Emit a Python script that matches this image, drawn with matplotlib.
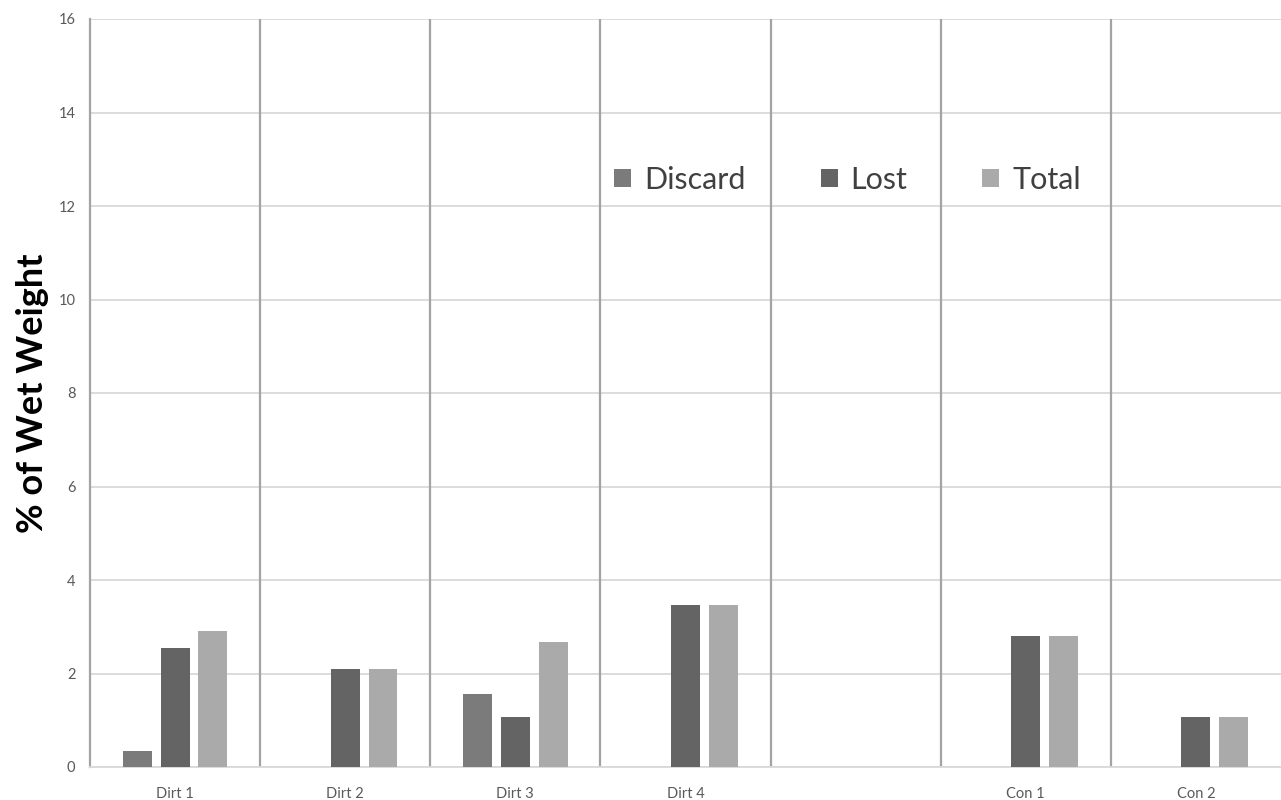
import numpy as np
import matplotlib
matplotlib.use("Agg")
import matplotlib.pyplot as plt
from matplotlib.patches import Patch

plt.rcParams['font.family'] = ['Lato', 'DejaVu Sans']

categories = ["Dirt 1", "Dirt 2", "Dirt 3", "Dirt 4", "", "Con 1", "Con 2"]
discard = [0.34, 0.0, 1.57, 0.0, 0.0, 0.0, 0.0]
lost = [2.55, 2.09, 1.06, 3.46, 0.0, 2.80, 1.06]
total = [2.90, 2.09, 2.67, 3.46, 0.0, 2.80, 1.06]
series_names = ["Discard", "Lost", "Total"]
series_colors = ["#7b7b7b", "#646464", "#aaaaaa"]
y_ticks = [0, 2, 4, 6, 8, 10, 12, 14, 16]

fig = plt.figure(figsize=(12.81, 8.0), dpi=100)
ax = fig.add_axes([90 / 1281, 33 / 800, 1 - 90 / 1281, (767 - 19) / 800])

x = np.arange(len(categories))
step = 0.222
width = 0.17
for i, (vals, color) in enumerate(zip([discard, lost, total], series_colors)):
    v = np.array(vals, dtype=float)
    v[v == 0] = np.nan
    ax.bar(x + (i - 1) * step, v, width=width, color=color, linewidth=0, zorder=3)

ax.set_xlim(-0.5, len(categories) - 0.5)
ax.set_ylim(0, 16)
ax.set_yticks(y_ticks)
ax.set_yticklabels([str(t) for t in y_ticks])
ax.set_xticks(x)
ax.set_xticklabels(categories)
ax.tick_params(axis='both', length=0, labelsize=10.5, labelcolor="#595959")
ax.tick_params(axis='y', pad=10.5)
ax.tick_params(axis='x', pad=14.5)

# horizontal grid
ax.yaxis.grid(True, color="#d9d9d9", linewidth=1.3, zorder=0)
ax.set_axisbelow(True)

# vertical separators between categories
for b in np.arange(0.5, len(categories) - 0.5, 1.0):
    ax.axvline(b, color="#a3a3a3", linewidth=1.6, zorder=1)

for side in ["top", "right"]:
    ax.spines[side].set_visible(False)
ax.spines["left"].set_color("#a3a3a3")
ax.spines["left"].set_linewidth(1.6)
ax.spines["bottom"].set_color("#d9d9d9")
ax.spines["bottom"].set_linewidth(1.3)

ax.set_ylabel("% of Wet Weight", fontsize=26, fontweight="bold", color="black", labelpad=7)

handles = [Patch(facecolor=c, edgecolor="none") for c in series_colors]
leg = ax.legend(handles, series_names, ncol=3, loc="center", bbox_to_anchor=(0.636, 0.785),
                frameon=False, fontsize=22, handlelength=0.56, handleheight=0.56,
                handletextpad=0.42, columnspacing=2.45, labelcolor="#404040")

fig.savefig("out.png", dpi=100)
